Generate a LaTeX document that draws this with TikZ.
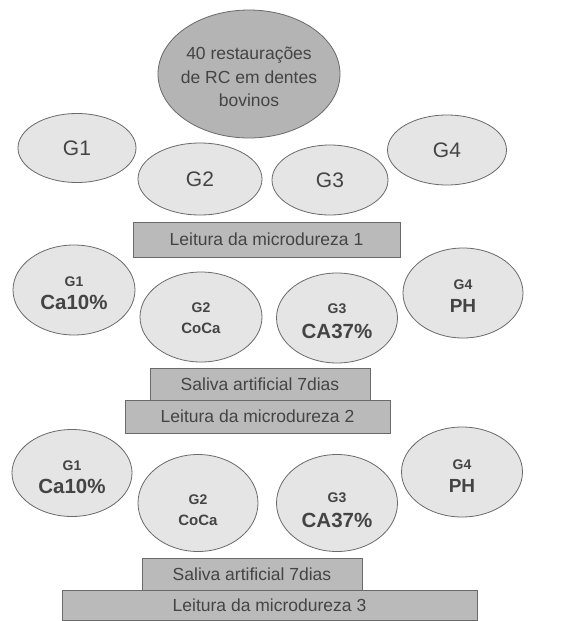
\documentclass[tikz,border=0pt]{standalone}
\usepackage{fontspec}
\setmainfont{Liberation Sans}
\usetikzlibrary{shapes.geometric}
\definecolor{txt}{HTML}{444444}
\definecolor{edge}{HTML}{6A6A6A}
\definecolor{bigfill}{HTML}{B4B4B4}
\definecolor{ellfill}{HTML}{E5E5E5}
\definecolor{boxfill}{HTML}{BABABA}
\tikzset{
  oval/.style={ellipse, draw=edge, line width=0.8pt, fill=ellfill, inner sep=0pt},
  bigoval/.style={ellipse, draw=edge, line width=0.8pt, fill=bigfill, inner sep=0pt},
  bar/.style={rectangle, draw=edge, line width=0.8pt, fill=boxfill, inner sep=0pt, text=txt,
    font=\fontsize{17.5}{20}\selectfont},
  gtxt/.style={text=txt, font=\fontsize{21}{24}\selectfont},
  btxt/.style={text=txt, align=center, font=\bfseries\fontsize{14}{20}\selectfont},
}
\newcommand{\bigtx}[1]{{\fontsize{20.5}{22}\selectfont #1}}
\newcommand{\midtx}[1]{{\fontsize{15}{18}\selectfont #1}}
\newcommand{\phtx}[1]{{\fontsize{19}{22}\selectfont #1}}
\begin{document}
\begin{tikzpicture}[x=1pt,y=-1pt]
\useasboundingbox[fill=white] (0,0) rectangle (586,621);
% top
\node[bigoval, minimum width=182pt, minimum height=128pt,
  label={[text=txt, align=center, yshift=-3pt, font=\fontsize{17.5}{23.5}\selectfont]center:40 restaurações\\de RC em dentes\\bovinos}] (top) at (249,74) {};
% row 1
\node[oval, minimum width=118pt, minimum height=69pt, label={[gtxt]center:G1}] (a1) at (77,148) {};
\node[oval, minimum width=124pt, minimum height=72pt, label={[gtxt]center:G2}] (a2) at (200,179) {};
\node[oval, minimum width=116pt, minimum height=70pt, label={[gtxt]center:G3}] (a3) at (330,180) {};
\node[oval, minimum width=119pt, minimum height=70pt, label={[gtxt]center:G4}] (a4) at (447,150) {};
\node[bar, minimum width=267pt, minimum height=35pt] (L1) at (266.5,239.5) {Leitura da microdureza 1};
% row 2
\node[oval, minimum width=122pt, minimum height=90pt, label={[btxt, yshift=-3pt]center:G1\\[3pt]\bigtx{Ca10\%}}] (b1) at (74,290) {};
\node[oval, minimum width=122pt, minimum height=90pt, label={[btxt, yshift=-1pt]center:G2\\[1pt]\midtx{CoCa}}] (b2) at (201,317) {};
\node[oval, minimum width=121pt, minimum height=90pt, label={[btxt, yshift=-3pt]center:G3\\[5pt]\bigtx{CA37\%}}] (b3) at (337,318) {};
\node[oval, minimum width=120pt, minimum height=90pt, label={[btxt, yshift=-3pt]center:G4\\[3pt]\phtx{PH}}] (b4) at (463,293) {};
\node[bar, minimum width=220pt, minimum height=32pt] (S1) at (260,384) {Saliva artificial 7dias};
\node[bar, minimum width=265pt, minimum height=33pt] (L2) at (257.5,416.5) {Leitura da microdureza 2};
% row 3
\node[oval, minimum width=120pt, minimum height=87pt, label={[btxt, yshift=-4pt]center:G1\\[3pt]\bigtx{Ca10\%}}] (c1) at (72,473) {};
\node[oval, minimum width=120pt, minimum height=97pt, label={[btxt, yshift=-7pt]center:G2\\[1pt]\midtx{CoCa}}] (c2) at (198,503) {};
\node[oval, minimum width=121pt, minimum height=97pt, label={[btxt, yshift=-7pt]center:G3\\[5pt]\bigtx{CA37\%}}] (c3) at (337,503) {};
\node[oval, minimum width=121pt, minimum height=90pt, label={[btxt, yshift=-4pt]center:G4\\[3pt]\phtx{PH}}] (c4) at (462,472) {};
\node[bar, minimum width=220pt, minimum height=32pt] (S2) at (252,574) {Saliva artificial 7dias};
\node[bar, minimum width=415pt, minimum height=30pt] (L3) at (269.5,605) {Leitura da microdureza 3};
\end{tikzpicture}
\end{document}
